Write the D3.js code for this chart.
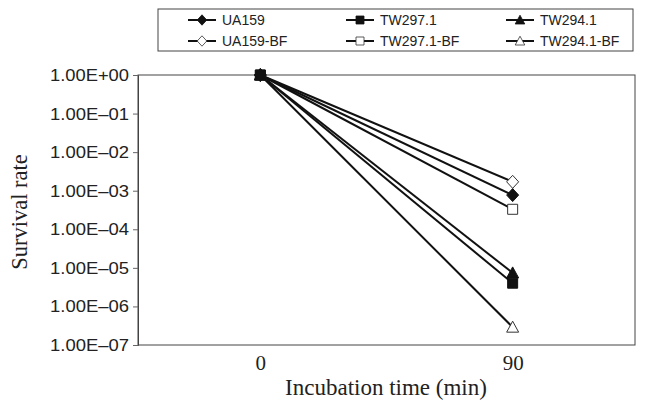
<!DOCTYPE html>
<html><head><meta charset="utf-8">
<script src="https://cdn.jsdelivr.net/npm/d3@7"></script>
<style>body{margin:0;background:#fff}svg{display:block}</style>
</head><body>
<script>
const times = ["0", "90"];
const seriesNames = ["UA159", "TW297.1", "TW294.1", "UA159-BF", "TW297.1-BF", "TW294.1-BF"];
const seriesValues = [
  [1, 7.7e-4],
  [1, 4.0e-6],
  [1, 7.4e-6],
  [1, 1.7e-3],
  [1, 3.3e-4],
  [1, 2.9e-7]
];
const markerShapes = ["diamond", "square", "triangle", "diamond", "square", "triangle"];
const markerFilled = [true, true, true, false, false, false];
const yTickValues = [1, 1e-1, 1e-2, 1e-3, 1e-4, 1e-5, 1e-6, 1e-7];
const yTickLabels = ["1.00E+00", "1.00E–01", "1.00E–02", "1.00E–03", "1.00E–04", "1.00E–05", "1.00E–06", "1.00E–07"];

const W = 645, H = 409;
const m = {left: 138, right: 10, top: 75, bottom: 64};
const svg = d3.select("body").append("svg").attr("width", W).attr("height", H);
const x = d3.scalePoint().domain(times).range([m.left, W - m.right]).padding(0.485);
const y = d3.scaleLog().domain([1e-7, 1]).range([H - m.bottom, m.top]);

// frame
svg.append("rect").attr("x", m.left).attr("y", m.top)
  .attr("width", W - m.right - m.left).attr("height", H - m.bottom - m.top)
  .attr("fill", "none").attr("stroke", "#444").attr("stroke-width", 1);

const yAxis = svg.append("g").attr("transform", `translate(${m.left},0)`)
  .call(d3.axisLeft(y).tickValues(yTickValues).tickFormat((d, i) => yTickLabels[i]).tickSize(5).tickPadding(4));
yAxis.select(".domain").attr("stroke", "#444");
yAxis.selectAll(".tick line").attr("stroke", "#666");
yAxis.selectAll("text").attr("font-family", "Liberation Sans, Arial, sans-serif").attr("font-size", 17)
  .attr("fill", "#222").attr("textLength", 79).attr("lengthAdjust", "spacingAndGlyphs");

const xAxis = svg.append("g").attr("transform", `translate(0,${H - m.bottom})`)
  .call(d3.axisBottom(x).tickSize(0).tickPadding(10));
xAxis.select(".domain").remove();
xAxis.selectAll("text").attr("font-family", "Liberation Serif, Times New Roman, serif").attr("font-size", 21).attr("fill", "#222");

svg.append("text").attr("x", 386).attr("y", 395)
  .attr("text-anchor", "middle").attr("font-family", "Liberation Serif, Times New Roman, serif")
  .attr("font-size", 23).attr("fill", "#222").text("Incubation time (min)");
svg.append("text").attr("transform", `translate(27,212) rotate(-90)`)
  .attr("text-anchor", "middle").attr("font-family", "Liberation Serif, Times New Roman, serif")
  .attr("font-size", 22.5).attr("fill", "#222").text("Survival rate");

function marker(g, shape, filled) {
  let p;
  if (shape === "diamond") p = "M0,-6.5L6,0L0,6.5L-6,0Z";
  else if (shape === "square") p = "M-5,-5H5V5H-5Z";
  else p = "M0,-6L6,5H-6Z";
  g.append("path").attr("d", p).attr("fill", filled ? "#111" : "#fff")
    .attr("stroke", filled ? "#111" : "#333").attr("stroke-width", 1);
}

const line = d3.line().x((d, i) => x(times[i])).y(d => y(d));
const order = [5, 4, 3, 2, 1, 0];
order.forEach(si => {
  svg.append("path").attr("d", line(seriesValues[si])).attr("fill", "none")
    .attr("stroke", "#111").attr("stroke-width", 2);
});
order.forEach(si => {
  seriesValues[si].forEach((v, i) => {
    const g = svg.append("g").attr("transform", `translate(${x(times[i])},${y(v)})`);
    marker(g, markerShapes[si], markerFilled[si]);
  });
});
// legend
const lg = svg.append("g");
lg.append("rect").attr("x", 158).attr("y", 9).attr("width", 475).attr("height", 42)
  .attr("fill", "#fff").attr("stroke", "#444").attr("stroke-width", 1);
const colX = [188, 346, 506];
const rowY = [20, 41];
seriesNames.forEach((n, si) => {
  const cx = colX[si % 3], cy = rowY[Math.floor(si / 3)];
  lg.append("line").attr("x1", cx).attr("x2", cx + 28).attr("y1", cy).attr("y2", cy)
    .attr("stroke", "#111").attr("stroke-width", 2);
  const g = lg.append("g").attr("transform", `translate(${cx + 14},${cy}) scale(0.8)`);
  marker(g, markerShapes[si], markerFilled[si]);
  lg.append("text").attr("x", cx + 34).attr("y", cy + 5).attr("font-family", "Liberation Sans, Arial, sans-serif")
    .attr("font-size", 14).attr("fill", "#222").text(n);
});
</script>
</body></html>
